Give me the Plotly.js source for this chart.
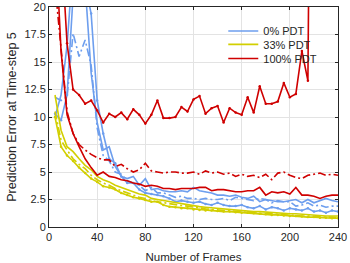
<!DOCTYPE html>
<html><head><meta charset="utf-8">
<script src="https://cdn.plot.ly/plotly-3.0.1.min.js"></script>
<style>html,body{margin:0;padding:0;background:#fff}#chart{width:350px;height:263px}</style>
</head><body><div id="chart"></div>
<script>
const frames = [5,10,15,20,25,30,35,40,45,50,55,60,65,70,75,80,85,90,95,100,105,110,115,120,125,130,135,140,145,150,155,160,165,170,175,180,185,190,195,200,205,210,215,220,225,230,235,240];

const blueSolid = [10.0,12.0,16.5,24,24,22,14,9.5,7.0,7.3,5.5,4.6,4.4,4.6,3.8,4.4,3.4,3.5,3.3,3.2,3.2,3.3,3.2,3.6,3.3,3.2,3.1,2.9,2.9,2.8,2.9,2.7,2.6,2.8,2.3,2.5,2.4,2.3,2.3,2.4,2.5,2.2,2.5,2.2,2.4,2.6,2.4,2.3];
const blueDashDot = [11.8,11.5,11.8,17.6,15.5,17.0,14.7,9.0,6.5,6.0,5.0,4.8,4.2,4.0,3.8,3.3,3.6,3.1,3.1,2.9,2.7,2.8,2.6,2.6,2.5,2.6,2.5,2.5,2.6,2.4,2.7,2.6,2.5,2.4,2.6,2.5,2.2,2.4,2.3,2.3,1.9,2.0,2.2,1.9,2.0,1.8,1.9,1.9];
const blueDots = [10.3,9.7,12.0,25,30,22,19.4,11.5,8.5,6.2,5.8,4.6,4.0,4.0,3.4,3.1,3.0,2.9,2.8,2.6,2.3,2.4,2.3,2.2,2.3,2.1,2.0,2.2,2.0,1.9,1.9,2.0,1.8,1.7,1.9,1.6,1.8,1.7,1.5,1.7,1.6,1.5,1.7,1.4,1.5,1.3,1.5,1.4];

const yellowSolid = [12.0,8.8,7.3,6.85,6.2,5.6,5.2,4.6,4.3,4.1,3.8,3.6,3.4,3.2,3.0,2.9,2.6,2.5,2.4,2.3,2.2,2.1,2.0,1.9,1.85,1.8,1.75,1.7,1.6,1.6,1.55,1.5,1.45,1.4,1.4,1.35,1.3,1.3,1.25,1.2,1.2,1.15,1.1,1.1,1.05,1.0,1.0,1.0];
const yellowDashDot = [10.5,7.9,7.0,6.2,5.7,5.3,4.7,4.3,4.0,3.8,3.5,3.3,3.1,2.9,2.7,2.6,2.4,2.3,2.2,2.1,2.0,1.95,1.9,1.8,1.7,1.65,1.6,1.55,1.5,1.45,1.4,1.4,1.35,1.3,1.25,1.2,1.2,1.15,1.1,1.1,1.05,1.0,1.0,0.95,0.95,0.9,0.9,0.85];
const yellowDots = [10.0,7.3,6.5,6.0,5.4,4.9,4.4,4.1,3.7,3.6,3.4,3.1,2.9,2.7,2.6,2.45,2.3,2.3,2.0,1.85,1.8,1.7,1.7,1.6,1.55,1.5,1.5,1.45,1.4,1.4,1.35,1.3,1.3,1.25,1.2,1.15,1.1,1.1,1.05,1.0,1.0,0.95,0.9,0.9,0.85,0.85,0.8,0.8];

const redSolid = [27,16,10.2,8.5,7.3,6.2,5.4,4.7,5.0,4.6,4.5,4.3,4.2,4.0,3.9,3.7,3.8,3.7,3.5,3.5,3.4,3.5,3.5,3.5,3.6,3.6,3.3,3.4,3.4,3.3,3.2,3.2,3.3,3.3,3.6,2.9,3.2,3.1,3.2,3.0,3.6,2.9,2.9,2.8,2.6,2.8,2.9,2.9];
const redDashDot = [22,16,10.5,8.5,7.5,7.0,6.6,6.3,6.1,6.1,5.5,5.7,5.3,5.0,5.2,5.8,5.1,5.0,4.9,5.0,5.0,4.9,4.9,5.0,4.8,5.1,4.9,5.0,4.8,4.9,4.6,4.8,4.6,4.7,4.5,4.8,4.3,4.9,5.0,4.7,4.5,4.4,4.7,4.8,4.9,4.7,4.8,4.7];
const redDots = [null,26,16.7,12.5,12.0,11.2,11.5,10.6,9.5,10.3,10.0,10.4,9.8,10.7,10.2,9.4,10.2,11.5,9.9,9.9,10.0,10.9,10.5,11.6,11.9,10.3,10.8,11.0,9.5,10.8,10.4,10.2,11.8,10.4,12.8,11.2,11.2,11.4,13.1,11.8,12.1,16.0,13.3,80,null,null,null,null];

const groupNames = ['0% PDT','33% PDT','100% PDT'];
const BLUE = '#6d9eee', YELLOW = '#d2cf00', RED = '#cf0000';

function tr(y, color, kind, name, legendId) {
  return {x: frames, y: y, type: 'scatter', mode: kind === 'dots' ? 'lines+markers' : 'lines',
    line: {color: color, width: 1.6, dash: kind === 'dashdot' ? '8px,3px,2px,3px' : 'solid'},
    marker: {color: color, size: 2.5}, showlegend: !!name, name: name || '',
    legend: legendId || 'legend', hoverinfo: 'skip', connectgaps: false};
}

const data = [
  tr(blueSolid, BLUE, 'solid', groupNames[0], 'legend'),
  tr(blueDashDot, BLUE, 'dashdot'),
  tr(blueDots, BLUE, 'dots'),
  tr(yellowSolid, YELLOW, 'solid', groupNames[1], 'legend2'),
  tr(yellowDashDot, YELLOW, 'dashdot'),
  tr(yellowDots, YELLOW, 'dots'),
  tr(redSolid, RED, 'solid', groupNames[2], 'legend3'),
  tr(redDashDot, RED, 'dashdot'),
  tr(redDots, RED, 'dots')
];

const axisCommon = {showline: true, mirror: 'ticks', linecolor: '#262626', linewidth: 1,
  ticks: 'inside', ticklen: 3, tickcolor: '#262626', showgrid: true, gridcolor: '#e3e3e3', gridwidth: 1,
  zeroline: false, tickfont: {size: 11, color: '#262626'}, automargin: false};

const legBase = {x: 0.603, xanchor: 'left', yanchor: 'middle', bgcolor: 'rgba(0,0,0,0)',
  font: {size: 11, color: '#262626'}, borderwidth: 0};

const layout = {
  width: 350, height: 263,
  margin: {l: 49, r: 12, t: 7, b: 36},
  paper_bgcolor: '#fff', plot_bgcolor: '#fff',
  font: {family: 'Liberation Sans, Arial, sans-serif', size: 11, color: '#262626'},
  xaxis: Object.assign({}, axisCommon, {range: [0, 240], tickvals: [0,40,80,120,160,200,240],
    title: {text: 'Number of Frames', font: {size: 11.5}, standoff: 10}}),
  yaxis: Object.assign({}, axisCommon, {range: [0, 20], tickvals: [0,2.5,5,7.5,10,12.5,15,17.5,20],
    ticktext: ['0','2.5','5','7.5','10','12.5','15','17.5','20'],
    title: {text: 'Prediction Error at Time-step 5', font: {size: 12.5}, standoff: 5}}),
  legend: Object.assign({}, legBase, {y: 0.891}),
  legend2: Object.assign({}, legBase, {y: 0.830}),
  legend3: Object.assign({}, legBase, {y: 0.766}),
  showlegend: true
};

Plotly.newPlot('chart', data, layout, {staticPlot: true, displayModeBar: false});
</script></body></html>
